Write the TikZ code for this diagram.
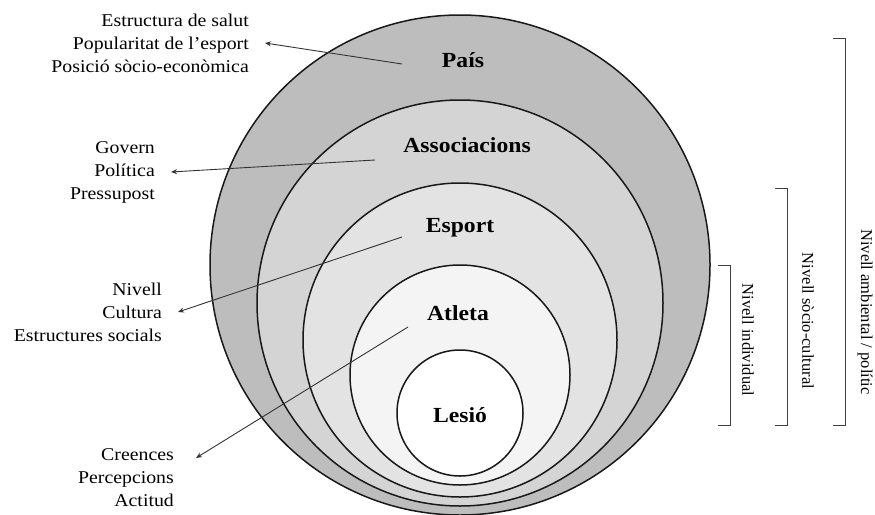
\documentclass[tikz,border=0pt]{standalone}
\usepackage{fontspec}
\setmainfont{Liberation Serif}
\newfontfamily\widefont[FakeStretch=1.1]{Liberation Serif}
\usetikzlibrary{arrows.meta, positioning}
\definecolor{ringA}{gray}{0.74}
\definecolor{ringB}{gray}{0.83}
\definecolor{ringC}{gray}{0.89}
\definecolor{ringD}{gray}{0.955}
\tikzstyle{arrow} = [line width=0.9pt, draw=black!80, -{Stealth[length=6pt, width=5pt]}]

\begin{document}
\begin{tikzpicture}[
  x=1pt, y=-1pt,
  ring/.style={draw=black!90, line width=1.5pt, circle, inner sep=0pt},
  ringlbl/.style={font=\widefont\bfseries\fontsize{21.5}{25}\selectfont},
  factors/.style={font=\widefont\fontsize{18}{23}\selectfont, align=right, anchor=east, inner xsep=16pt, inner ysep=0pt},
  levellbl/.style={font=\fontsize{16.5}{20}\selectfont, rotate=-90},
  bracket/.style={line width=1pt, draw=black!75}
]
\useasboundingbox (0,0) rectangle (875,514);

% Nested rings
\node[ring, fill=ringA, minimum size=500] (pais) at (460,265) {};
\node[ring, fill=ringB, minimum size=406] (assoc) at (460,303) {};
\node[ring, fill=ringC, minimum size=314] (esport) at (460,340) {};
\node[ring, fill=ringD, minimum size=220] (atleta) at (460,375) {};
\node[ring, fill=white, minimum size=126] (lesio) at (460,413) {};

\node[ringlbl] (pais lbl) at (463,60) {País};
\node[ringlbl] (assoc lbl) at (467,145) {Associacions};
\node[ringlbl] (esport lbl) at (460,228) {Esport};
\node[ringlbl] (atleta lbl) at (458,313) {Atleta};
\node[ringlbl] (lesio lbl) at (460,415) {Lesió};

% Factors (left)
\node[factors] (f1) at (265,43) {Estructura de salut\\Popularitat de l’esport\\Posició sòcio-econòmica};
\node[factors] (f2) at (171,172) {Govern\\Política\\Pressupost};
\node[factors] (f3) at (178,312) {Nivell\\Cultura\\Estructures socials};
\node[factors] (f4) at (190,478) {Creences\\Percepcions\\Actitud};

\coordinate (p1) at (402,64);
\coordinate (p2) at (375,160);
\coordinate (p3) at (402,237);
\coordinate (p4) at (408,327);

\draw[arrow] (p1) -- (f1.east);
\draw[arrow] (p2) -- (f2.east);
\draw[arrow] (p3) -- (f3.east);
\draw[arrow] (p4) -- ([shift={(6,-20)}]f4.east);

% Levels (right)
\draw[bracket] (718,265) -| (730,425) -- (718,425);
\draw[bracket] (775,188) -| (787,425) -- (775,425);
\draw[bracket] (833,38) -| (845,425) -- (833,425);

\node[levellbl] (lvl ind) at (748,340) {Nivell individual};
\node[levellbl] (lvl soc) at (808,321) {Nivell sòcio-cultural};
\node[levellbl] (lvl amb) at (865,312) {Nivell ambiental / polític};

\end{tikzpicture}
\end{document}
